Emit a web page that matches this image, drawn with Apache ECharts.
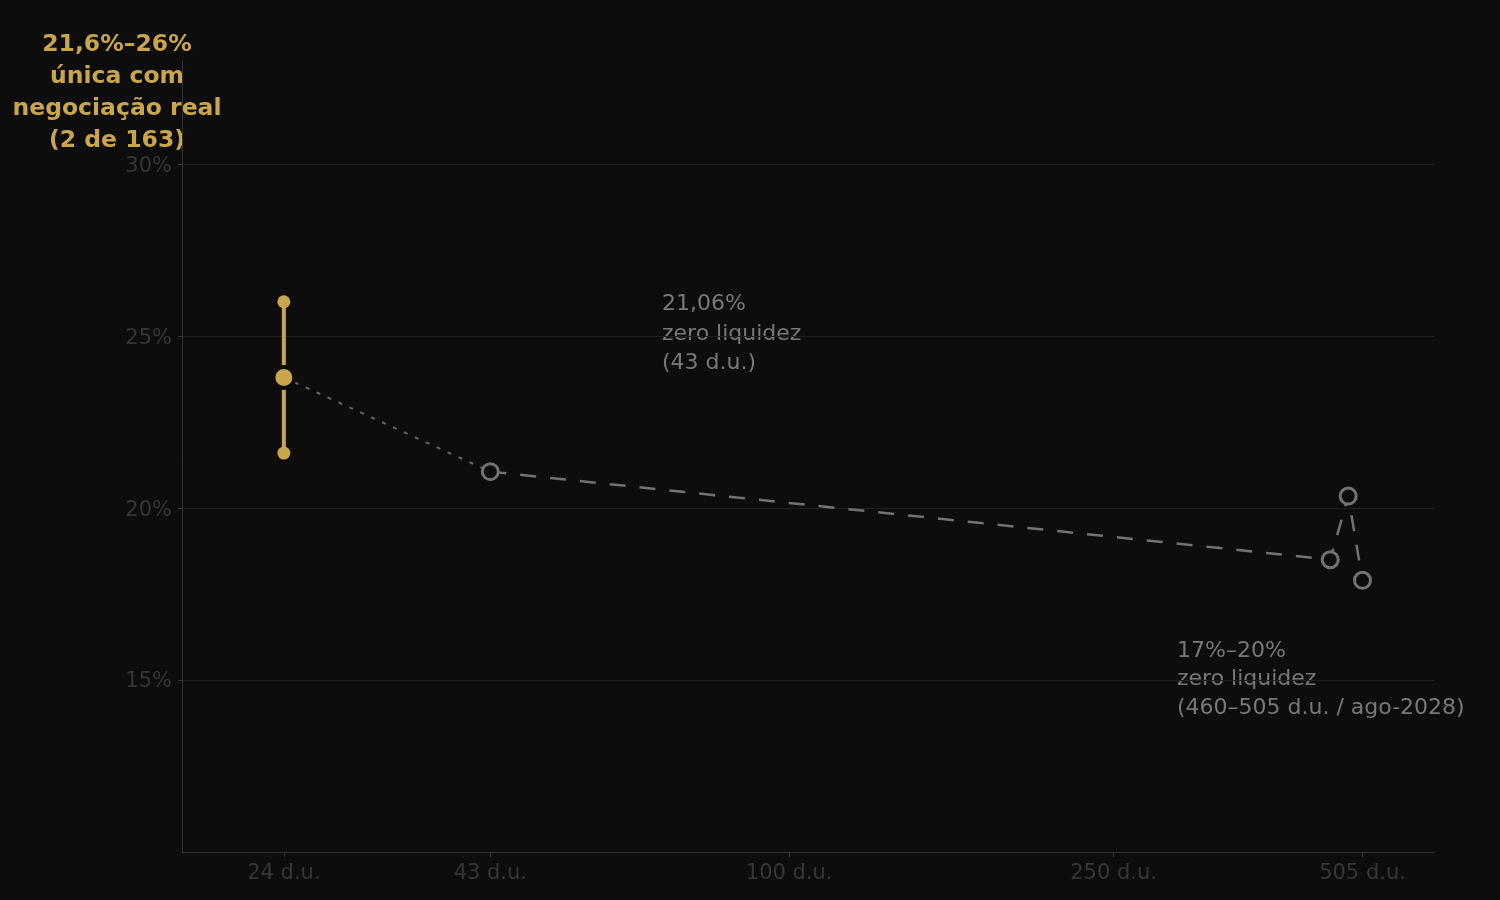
<!DOCTYPE html>
<html>
<head>
<meta charset="utf-8">
<script src="https://cdn.jsdelivr.net/npm/echarts@6/dist/echarts.min.js"></script>
<style>
html,body{margin:0;padding:0;background:#0d0d0d;}
#c{width:1500px;height:900px;}
</style>
</head>
<body>
<div id="c"></div>
<script>
// ---- data ----
const xTicks = [24, 43, 100, 250, 505];
const yTicks = [15, 20, 25, 30];
const goldDays = 24;
const goldLow = 21.6;
const goldMid = 23.8;
const goldHigh = 26.0;
const zeroDays = [43, 461, 485, 505];
const zeroRates = [21.06, 18.5, 20.35, 17.9];
const titleLines = ['21,6%–26%', 'única com', 'negociação real', '(2 de 163)'];
const note1Lines = ['21,06%', 'zero liquidez', '(43 d.u.)'];
const note2Lines = ['17%–20%', 'zero liquidez', '(460–505 d.u. / ago-2028)'];

const BG = '#0d0d0d';
const GOLD = '#c9a64e';
const GRAY = '#727272';
const FONT = 'DejaVu Sans';

const chart = echarts.init(document.getElementById('c'));
chart.setOption({
  backgroundColor: BG,
  animation: false,
  textStyle: {fontFamily: FONT},
  grid: {left: 182, right: 66, top: 61, bottom: 48},
  xAxis: {
    type: 'log',
    min: 18, max: 618,
    axisLine: {show: true, lineStyle: {color: '#333333', width: 1}},
    axisTick: {show: true, customValues: xTicks, length: 5, lineStyle: {color: '#333333'}},
    axisLabel: {customValues: xTicks, color: '#363636', fontSize: 21, margin: 11, fontFamily: FONT,
      formatter: v => Math.round(v) + ' d.u.'},
    splitLine: {show: false},
    minorTick: {show: false}
  },
  yAxis: {
    type: 'value',
    min: 10, max: 33, interval: 5,
    axisLine: {show: true, lineStyle: {color: '#333333', width: 1}},
    axisTick: {show: true, customValues: yTicks, length: 4, lineStyle: {color: '#333333'}},
    axisLabel: {customValues: yTicks, color: '#363636', fontSize: 21, margin: 10, fontFamily: FONT,
      formatter: v => '{a|' + v + '%}',
      rich: {a: {color: '#363636', fontSize: 21, fontFamily: FONT, padding: [4, 0, 0, 0]}}},
    splitLine: {show: true, lineStyle: {color: '#1e1e1e', width: 1}}
  },
  series: [
    {
      type: 'line',
      data: [[goldDays, goldMid], [zeroDays[0], zeroRates[0]]],
      symbol: 'none',
      lineStyle: {color: '#666666', width: 2, type: [4, 8]},
      z: 2
    },
    {
      type: 'line',
      data: zeroDays.map((d, i) => [d, zeroRates[i]]),
      symbol: 'circle',
      symbolSize: 16,
      itemStyle: {color: BG, borderColor: GRAY, borderWidth: 3},
      lineStyle: {color: GRAY, width: 2.5, type: [16, 14]},
      z: 3
    },
    {
      type: 'line',
      data: [[goldDays, goldLow], [goldDays, goldHigh]],
      symbol: 'circle',
      symbolSize: 13,
      itemStyle: {color: GOLD},
      lineStyle: {color: GOLD, width: 4},
      z: 4
    },
    {
      type: 'scatter',
      data: [[goldDays, goldMid]],
      symbol: 'circle',
      symbolSize: 21,
      itemStyle: {color: GOLD, borderColor: BG, borderWidth: 4, opacity: 1},
      z: 5
    }
  ],
  graphic: [
    {
      type: 'text', x: 117, y: 29,
      style: {text: titleLines.join('\n'), fill: GOLD, font: 'bold 23.5px "DejaVu Sans"',
        textAlign: 'center', textVerticalAlign: 'top', lineHeight: 32}
    },
    {
      type: 'text', x: 662, y: 290,
      style: {text: note1Lines.join('\n'), fill: '#787878', font: '22px "DejaVu Sans"',
        textAlign: 'left', textVerticalAlign: 'top', lineHeight: 29.5}
    },
    {
      type: 'text', x: 1177, y: 637,
      style: {text: note2Lines.join('\n'), fill: '#787878', font: '22px "DejaVu Sans"',
        textAlign: 'left', textVerticalAlign: 'top', lineHeight: 28.5}
    }
  ]
});
</script>
</body>
</html>
